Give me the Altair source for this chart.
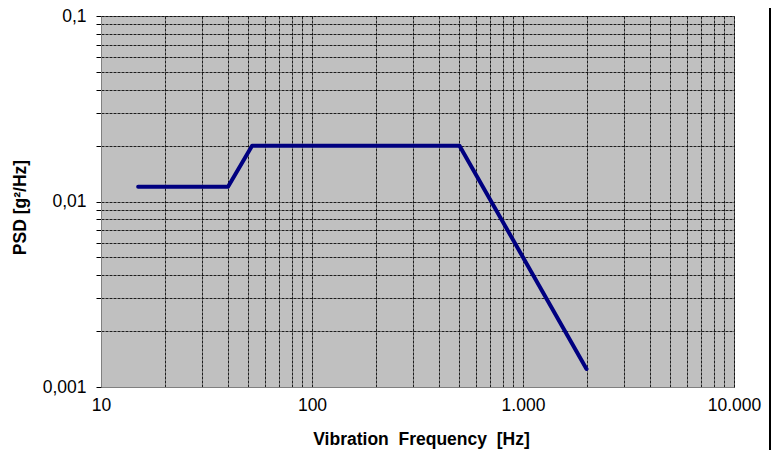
import altair as alt
import pandas as pd

# Data
freq = [15, 40, 52, 500, 2000]
psd = [0.012, 0.012, 0.02, 0.02, 0.00125]

x_ticks = [10, 20, 30, 40, 50, 60, 70, 80, 90,
           100, 200, 300, 400, 500, 600, 700, 800, 900,
           1000, 2000, 3000, 4000, 5000, 6000, 7000, 8000, 9000, 10000]
y_ticks = [0.001, 0.002, 0.003, 0.004, 0.005, 0.006, 0.007, 0.008, 0.009,
           0.01, 0.02, 0.03, 0.04, 0.05, 0.06, 0.07, 0.08, 0.09, 0.1]

x_label_expr = ("datum.value == 10 ? '10' : datum.value == 100 ? '100' : "
                "datum.value == 1000 ? '1.000' : datum.value == 10000 ? '10.000' : ''")
y_label_expr = ("datum.value == 0.1 ? '0,1' : datum.value == 0.01 ? '0,01' : "
                "datum.value == 0.001 ? '0,001' : ''")

df = pd.DataFrame({"freq": freq, "psd": psd})

FONT = "Liberation Sans"
W, H = 633, 371

line = alt.Chart(df).mark_line(color="#000080", strokeWidth=4, strokeCap="round",
                               strokeJoin="round").encode(
    x=alt.X("freq:Q",
            scale=alt.Scale(type="log", domain=[10, 10000], nice=False),
            axis=alt.Axis(values=x_ticks, labelExpr=x_label_expr,
                          title="Vibration\u00a0 Frequency\u00a0 [Hz]",
                          ticks=False, labelPadding=9, labelFontSize=17.5,
                          labelFont=FONT, labelColor="#000000",
                          titleFont=FONT, titleFontSize=17.5, titleFontWeight="bold",
                          titleColor="#000000", titleX=320, titleY=52,
                          titleBaseline="middle", titleAlign="center",
                          grid=True, gridColor="#000000", gridDash=[3, 1],
                          gridWidth=1, gridOpacity=0.85,
                          domainColor="#808080", domainWidth=1,
                          labelFlush=False, labelOverlap=False)),
    y=alt.Y("psd:Q",
            scale=alt.Scale(type="log", domain=[0.001, 0.1], nice=False),
            axis=alt.Axis(values=y_ticks, labelExpr=y_label_expr,
                          title="PSD [g²/Hz]",
                          ticks=True, tickSize=5, tickColor="#000000",
                          labelPadding=10, labelFontSize=17.5,
                          labelFont=FONT, labelColor="#000000",
                          titleFont=FONT, titleFontSize=17.5, titleFontWeight="bold",
                          titleColor="#000000", titleX=-81, titleY=191,
                          titleBaseline="middle", titleAlign="center", titleAngle=270,
                          grid=True, gridColor="#000000", gridDash=[3, 1],
                          gridWidth=1, gridOpacity=0.85,
                          domainColor="#808080", domainWidth=1,
                          labelFlush=False, labelOverlap=False)),
)

frame = alt.Chart(df).mark_rule(color="#000000", strokeWidth=1.5).encode(
    x=alt.value(669), y=alt.value(-8), y2=alt.value(445)
)

chart = alt.layer(line, frame).properties(
    width=W, height=H,
    autosize=alt.AutoSizeParams(type="none"),
    padding={"left": 93, "top": 8, "right": 38, "bottom": 63},
    background="#ffffff",
).configure_view(fill="#C0C0C0", stroke="#808080", strokeWidth=1)

chart.save("out.html", embed_options={"renderer": "svg", "actions": False})
